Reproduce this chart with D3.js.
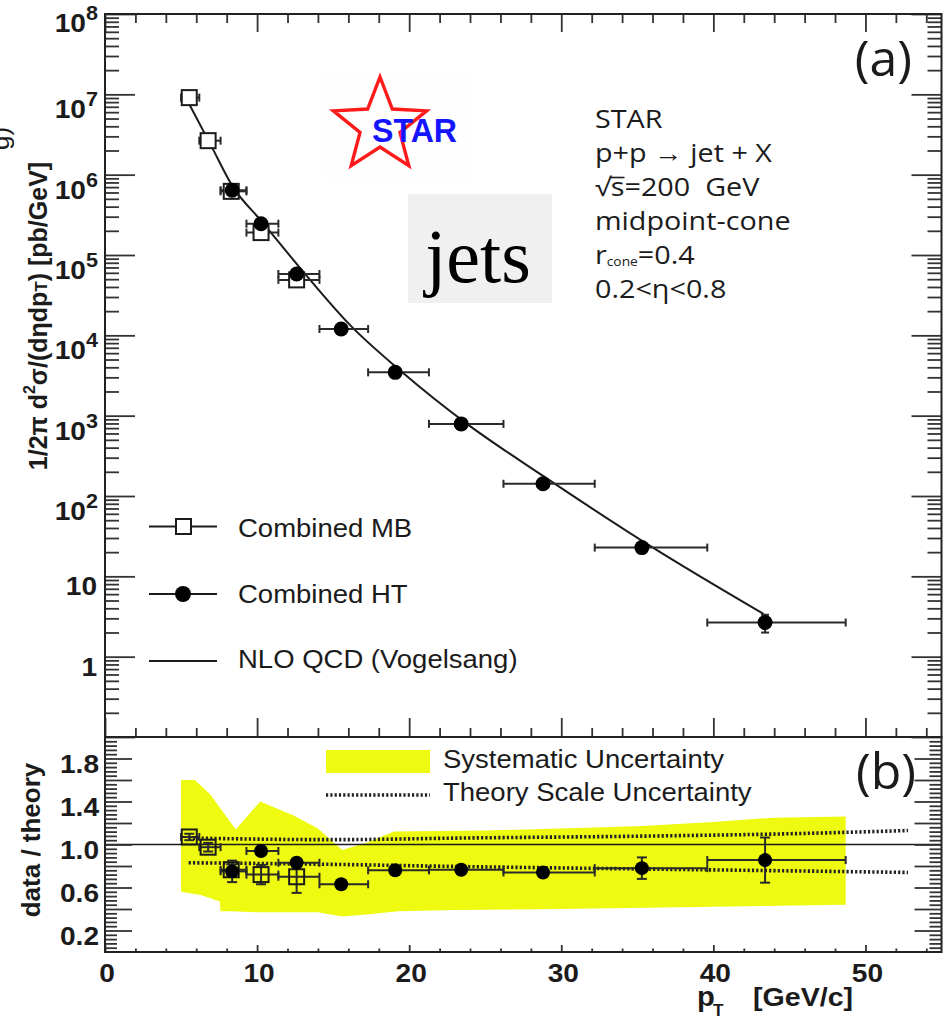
<!DOCTYPE html>
<html>
<head>
<meta charset="utf-8">
<script src="https://cdn.jsdelivr.net/npm/d3@7"></script>
<style>
  body { margin: 0; background: #fff; }
  svg { display: block; }
  text { white-space: pre; }
</style>
</head>
<body>
<script>
// ---- Combined minimum-bias (MB) sample ----
const mbPt       = [5.54, 6.78, 8.30, 10.26, 12.60];
const mbLo       = [5.0, 6.2, 7.6, 9.3, 11.4];
const mbHi       = [6.2, 7.6, 9.3, 11.4, 14.1];
const mbXsec     = [9.1e6, 2.65e6, 6.2e5, 1.9e5, 4.9e4];
const mbRatio    = [1.07, 0.975, 0.765, 0.72, 0.70];
const mbRatioErr = [0.03, 0.04, 0.05, 0.09, 0.15];

// ---- Combined high-tower (HT) sample ----
const htPt       = [8.36, 10.26, 12.60, 15.53, 19.08, 23.42, 28.80, 35.30, 43.40];
const htLo       = [7.6, 9.3, 11.4, 14.1, 17.3, 21.3, 26.2, 32.2, 39.6];
const htHi       = [9.3, 11.4, 14.1, 17.3, 21.3, 26.2, 32.2, 39.6, 48.7];
const htXsec     = [6.4e5, 2.45e5, 5.8e4, 1.2e4, 3.46e3, 7.9e2, 1.42e2, 22.8, 2.66];
const htRelErr   = [0.03, 0.03, 0.03, 0.03, 0.03, 0.04, 0.06, 0.10, 0.25];
const htRatio    = [0.75, 0.94, 0.83, 0.63, 0.76, 0.765, 0.74, 0.78, 0.855];
const htRatioErr = [0.10, 0.03, 0.03, 0.03, 0.03, 0.03, 0.04, 0.10, 0.21];

// ---- NLO QCD (Vogelsang) ----
const nloPt   = [5.5, 7.0, 8.4, 10.3, 13.0, 16.1, 19.6, 23.8, 28.8, 36.0, 43.3];
const nloXsec = [7.8e6, 2.25e6, 7.1e5, 2.63e5, 6.3e4, 1.35e4, 3.4e3, 7.9e2, 1.78e2, 22.9, 3.4];

// ---- systematic uncertainty band (ratio panel) ----
const sysUpPt = [5.0, 5.9, 6.9, 8.6, 10.2, 12.4, 14.0, 15.6, 17.3, 19.0, 25.0, 35.0, 40.0, 44.0, 48.7];
const sysUp   = [1.60, 1.60, 1.47, 1.14, 1.40, 1.27, 1.15, 0.95, 1.02, 1.12, 1.13, 1.17, 1.21, 1.25, 1.26];
const sysLoPt = [5.0, 6.3, 7.55, 7.6, 8.3, 10.0, 14.0, 15.6, 17.2, 19.3, 23.0, 30.0, 40.0, 48.7];
const sysLo   = [0.56, 0.53, 0.47, 0.38, 0.38, 0.37, 0.37, 0.33, 0.35, 0.38, 0.39, 0.40, 0.42, 0.44];

// ---- theory scale uncertainty (ratio panel) ----
const scalePt = [5.5, 15.0, 23.4, 36.5, 45.0, 52.8];
const scaleUp = [1.06, 1.045, 1.06, 1.08, 1.10, 1.13];
const scaleLo = [0.83, 0.815, 0.795, 0.77, 0.755, 0.74];

// ---- axis ticks ----
const xMajor = [0, 10, 20, 30, 40, 50];
const xMinor = d3.range(2, 55, 2).filter(v => v % 10 !== 0);
const yDecades = [0.1, 1, 10, 1e2, 1e3, 1e4, 1e5, 1e6, 1e7, 1e8];
const yLabelled = [1, 10, 1e2, 1e3, 1e4, 1e5, 1e6, 1e7, 1e8];
const rMajor = [0.2, 0.4, 0.6, 0.8, 1.0, 1.2, 1.4, 1.6, 1.8];
const rLabelled = [0.2, 0.6, 1.0, 1.4, 1.8];

const SANS = "'Liberation Sans', Arial, Helvetica, sans-serif";
const HUMAN = "'Open Sans', 'Noto Sans', sans-serif";
const SERIF = "'Liberation Serif', 'Times New Roman', serif";
const INK = "#1b1b1b";

const W = 946, H = 1021;
const xL = 105, xR = 941.5, yT = 14, yM = 737, yB = 952;

const svg = d3.select("body").append("svg").attr("width", W).attr("height", H);

const x = d3.scaleLinear().domain([0, 55]).range([xL, xR]);
const yTop = d3.scaleLog().domain([0.1, 1e8]).range([yM, yT]);
const yBot = d3.scaleLinear().domain([0, 2]).range([yB, yM]);

const yMinor = [];
yDecades.slice(0, -1).forEach(d => { for (let k = 2; k <= 9; k++) yMinor.push(k * d); });
const rMinor = d3.range(1, 50).filter(k => k % 5 !== 0).map(k => k * 0.04);

function txt(parent, px, py, s, o = {}) {
  return parent.append("text")
    .attr("transform", `translate(${px},${py}) scale(${o.sx || 1},1)`)
    .attr("text-anchor", o.anchor || "start")
    .attr("font-family", o.family || SANS)
    .attr("font-size", o.size || 25)
    .attr("font-weight", o.weight || "normal")
    .attr("fill", o.fill || INK)
    .text(s);
}

function axis(gen, tx, ty) {
  const g = svg.append("g").attr("transform", `translate(${tx},${ty})`).call(gen);
  g.select(".domain").remove();
  g.selectAll("line").attr("stroke", "#333").attr("stroke-width", 1.8);
  g.selectAll("text").remove();
  return g;
}

// ================= ratio panel content =================
const band = sysUpPt.map((p, i) => [p, sysUp[i]]).concat(
  sysLoPt.map((p, i) => [p, sysLo[i]]).reverse());
svg.append("path")
  .attr("d", d3.line().x(d => x(d[0])).y(d => yBot(d[1]))(band) + "Z")
  .attr("fill", "#eefb10");

svg.append("line")
  .attr("x1", xL).attr("x2", xR).attr("y1", yBot(1)).attr("y2", yBot(1))
  .attr("stroke", INK).attr("stroke-width", 1.6);

const dotted = d3.line().x(d => x(d[0])).y(d => yBot(d[1])).curve(d3.curveMonotoneX);
[scaleUp, scaleLo].forEach(arr => {
  svg.append("path")
    .attr("d", dotted(scalePt.map((p, i) => [p, arr[i]])))
    .attr("fill", "none").attr("stroke", "#222")
    .attr("stroke-width", 3.6).attr("stroke-dasharray", "2.2,2.1");
});

function errorBars(g, pts, lo, hi, vals, yScale, vLo, vHi, capH, capV) {
  pts.forEach((p, i) => {
    const cy = yScale(vals[i]);
    g.append("line").attr("x1", x(lo[i])).attr("x2", x(hi[i])).attr("y1", cy).attr("y2", cy);
    [lo[i], hi[i]].forEach(e => g.append("line")
      .attr("x1", x(e)).attr("x2", x(e)).attr("y1", cy - capH).attr("y2", cy + capH));
    const ya = yScale(vLo[i]), yb = yScale(vHi[i]), cx = x(p);
    g.append("line").attr("x1", cx).attr("x2", cx).attr("y1", ya).attr("y2", yb);
    [ya, yb].forEach(yy => g.append("line")
      .attr("x1", cx - capV).attr("x2", cx + capV).attr("y1", yy).attr("y2", yy));
  });
  g.attr("stroke", "#2a2a2a").attr("stroke-width", 2);
}

const rErr = svg.append("g");
errorBars(rErr, mbPt, mbLo, mbHi, mbRatio, yBot,
  mbRatio.map((v, i) => v - mbRatioErr[i]), mbRatio.map((v, i) => v + mbRatioErr[i]), 4, 5);
errorBars(rErr, htPt, htLo, htHi, htRatio, yBot,
  htRatio.map((v, i) => v - htRatioErr[i]), htRatio.map((v, i) => v + htRatioErr[i]), 4, 5);

svg.append("g").selectAll("rect").data(mbPt).join("rect")
  .attr("x", d => x(d) - 7.5).attr("y", (d, i) => yBot(mbRatio[i]) - 7.5)
  .attr("width", 15).attr("height", 15)
  .attr("fill", "none").attr("stroke", INK).attr("stroke-width", 2);
svg.append("g").selectAll("circle").data(htPt).join("circle")
  .attr("cx", d => x(d)).attr("cy", (d, i) => yBot(htRatio[i])).attr("r", 7)
  .attr("fill", "#000");

// ================= spectrum panel content =================
// STAR logo
svg.append("rect").attr("x", 325).attr("y", 73).attr("width", 148).attr("height", 109).attr("fill", "#fefefe");
const starPts = d3.range(10).map(k => {
  const a = -Math.PI / 2 + k * Math.PI / 5, r = k % 2 ? 21 : 49;
  return [380 + r * Math.cos(a), 126 + r * Math.sin(a)];
});
svg.append("path").attr("d", "M" + starPts.join("L") + "Z")
  .attr("fill", "none").attr("stroke", "#ff1a1a").attr("stroke-width", 3.4)
  .attr("stroke-linejoin", "miter");
txt(svg, 372, 141.5, "STAR", { size: 33, weight: "bold", fill: "#1414ff" })
  .attr("textLength", 85).attr("lengthAdjust", "spacingAndGlyphs");

// "jets" tag
svg.append("rect").attr("x", 408).attr("y", 194).attr("width", 144).attr("height", 109).attr("fill", "#f0f0f0");
txt(svg, 478, 281.5, "jets", { size: 76, family: SERIF, anchor: "middle", fill: "#000" });

// NLO curve
svg.append("path")
  .attr("d", d3.line().x(d => x(d[0])).y(d => yTop(d[1])).curve(d3.curveMonotoneX)(
    nloPt.map((p, i) => [p, nloXsec[i]])))
  .attr("fill", "none").attr("stroke", INK).attr("stroke-width", 2);

const sErr = svg.append("g");
errorBars(sErr, mbPt, mbLo, mbHi, mbXsec, yTop, mbXsec.map(v => v * 0.97), mbXsec.map(v => v * 1.03), 4, 4);
errorBars(sErr, htPt, htLo, htHi, htXsec, yTop,
  htXsec.map((v, i) => v * (1 - htRelErr[i])), htXsec.map((v, i) => v * (1 + htRelErr[i])), 4, 4);

svg.append("g").selectAll("rect").data(mbPt).join("rect")
  .attr("x", d => x(d) - 7.5).attr("y", (d, i) => yTop(mbXsec[i]) - 7.5)
  .attr("width", 15).attr("height", 15)
  .attr("fill", "#fff").attr("stroke", INK).attr("stroke-width", 2);
svg.append("g").selectAll("circle").data(htPt).join("circle")
  .attr("cx", d => x(d)).attr("cy", (d, i) => yTop(htXsec[i])).attr("r", 7.5)
  .attr("fill", "#000");

// legend (spectrum panel)
const leg = svg.append("g");
const legY = [526.5, 594, 661];
legY.forEach(yy => leg.append("line").attr("x1", 149).attr("x2", 217).attr("y1", yy).attr("y2", yy)
  .attr("stroke", INK).attr("stroke-width", 2));
leg.append("rect").attr("x", 176).attr("y", legY[0] - 7.5).attr("width", 15).attr("height", 15)
  .attr("fill", "#fff").attr("stroke", INK).attr("stroke-width", 2);
leg.append("circle").attr("cx", 183).attr("cy", legY[1]).attr("r", 8).attr("fill", "#000");
txt(leg, 238, 537, "Combined MB", { size: 25, sx: 1.1 });
txt(leg, 238, 603, "Combined HT", { size: 25, sx: 1.1 });
txt(leg, 238, 668, "NLO QCD (Vogelsang)", { size: 25, sx: 1.1 });

// annotation block
const ann = svg.append("g").attr("transform", "translate(595,0) scale(1.15,1)");
const annStyle = t => t.attr("font-family", HUMAN).attr("font-size", 25).attr("fill", INK);
annStyle(ann.append("text").attr("y", 128).text("STAR"));
annStyle(ann.append("text").attr("y", 162).text("p+p \u2192 jet + X"));
const sq = annStyle(ann.append("text").attr("y", 196));
sq.append("tspan").text("\u221A");
sq.append("tspan").text("s");
sq.append("tspan").text("=200  GeV");
const sNode = sq.node();
const s0 = sNode.getStartPositionOfChar(1).x, s1 = sNode.getEndPositionOfChar(1).x;
ann.append("line").attr("x1", s0 - 1).attr("x2", s1).attr("y1", 177.5).attr("y2", 177.5)
  .attr("stroke", INK).attr("stroke-width", 1.6);
annStyle(ann.append("text").attr("y", 230).text("midpoint-cone"));
const rc = annStyle(ann.append("text").attr("y", 264));
rc.append("tspan").text("r");
rc.append("tspan").attr("font-size", 12).attr("dy", 2).text("cone");
rc.append("tspan").attr("dy", -2).text("=0.4");
annStyle(ann.append("text").attr("y", 298).text("0.2<\u03B7<0.8"));

// panel tags
txt(svg, 912, 76, "(a)", { size: 50, family: HUMAN, anchor: "end" });
txt(svg, 916, 789, "(b)", { size: 50, family: HUMAN, anchor: "end" });

// legend (ratio panel)
svg.append("rect").attr("x", 326).attr("y", 750).attr("width", 104).attr("height", 23).attr("fill", "#eefb10");
svg.append("line").attr("x1", 326).attr("x2", 430).attr("y1", 795).attr("y2", 795)
  .attr("stroke", "#222").attr("stroke-width", 3.6).attr("stroke-dasharray", "2.2,2.1");
txt(svg, 443, 768, "Systematic Uncertainty", { size: 25, sx: 1.1 });
txt(svg, 443, 801, "Theory Scale Uncertainty", { size: 25, sx: 1.1 });

// ================= axes =================
// spectrum panel
axis(d3.axisLeft(yTop).tickValues(yDecades).tickSize(-30).tickFormat(""), xL, 0);
axis(d3.axisLeft(yTop).tickValues(yMinor).tickSize(-14).tickFormat(""), xL, 0);
axis(d3.axisRight(yTop).tickValues(yDecades).tickSize(-30).tickFormat(""), xR, 0);
axis(d3.axisRight(yTop).tickValues(yMinor).tickSize(-14).tickFormat(""), xR, 0);
axis(d3.axisBottom(x).tickValues(xMajor).tickSize(18).tickFormat(""), 0, yT);
axis(d3.axisBottom(x).tickValues(xMinor).tickSize(9).tickFormat(""), 0, yT);
axis(d3.axisTop(x).tickValues(xMajor).tickSize(19).tickFormat(""), 0, yM);
axis(d3.axisTop(x).tickValues(xMinor).tickSize(9).tickFormat(""), 0, yM);
// ratio panel
axis(d3.axisLeft(yBot).tickValues(rMajor).tickSize(-27).tickFormat(""), xL, 0);
axis(d3.axisLeft(yBot).tickValues(rMinor).tickSize(-12).tickFormat(""), xL, 0);
axis(d3.axisRight(yBot).tickValues(rMajor).tickSize(-27).tickFormat(""), xR, 0);
axis(d3.axisRight(yBot).tickValues(rMinor).tickSize(-12).tickFormat(""), xR, 0);
axis(d3.axisTop(x).tickValues(xMajor).tickSize(7).tickFormat(""), 0, yB);
axis(d3.axisTop(x).tickValues(xMinor).tickSize(3.5).tickFormat(""), 0, yB);

// frames
[[yT, yM], [yM, yB]].forEach(([a, b]) => svg.append("rect")
  .attr("x", xL).attr("y", a).attr("width", xR - xL).attr("height", b - a)
  .attr("fill", "none").attr("stroke", "#222").attr("stroke-width", 2));

// tick labels
const lab = { size: 26, weight: "bold", anchor: "end", sx: 1.08 };
yLabelled.forEach(v => {
  const ty = yTop(v), n = Math.round(Math.log10(v));
  if (n < 2) {
    txt(svg, 97, ty + 19, String(v), lab);
  } else {
    const t = txt(svg, 98, v === 1e8 ? ty + 18 : ty + 24, "", lab);
    t.append("tspan").text("10");
    t.append("tspan").attr("font-size", 20).attr("dy", -12).text(String(n));
  }
});
rLabelled.forEach(v => txt(svg, 99, yBot(v) + 14, v.toFixed(1), lab));
xMajor.forEach(v => txt(svg, x(v) + 2, 982, String(v), { size: 26, weight: "bold", anchor: "middle", sx: 1.08 }));

// axis titles
const yt = svg.append("text")
  .attr("transform", "translate(47,316) rotate(-90)")
  .attr("text-anchor", "middle").attr("font-family", SANS).attr("font-weight", "bold")
  .attr("font-size", 25).attr("fill", INK);
yt.append("tspan").text("1/2\u03C0 d");
yt.append("tspan").attr("font-size", 16).attr("dy", -12).text("2");
yt.append("tspan").attr("dy", 12).text("\u03C3/(d\u03B7dp");
yt.append("tspan").attr("font-size", 17).text("T");
yt.append("tspan").text(") [pb/GeV]");

svg.append("text")
  .attr("transform", "translate(9,150) rotate(-90)")
  .attr("font-family", SANS).attr("font-size", 26).attr("fill", INK).text("g)");

svg.append("text")
  .attr("transform", "translate(40,840) rotate(-90)")
  .attr("text-anchor", "middle").attr("font-family", SANS).attr("font-weight", "bold")
  .attr("font-size", 26).attr("fill", INK).text("data / theory");

txt(svg, 697, 1006, "p", { size: 27, weight: "bold", sx: 1.08 });
txt(svg, 713, 1016, "T", { size: 16, weight: "bold", sx: 1.08 });
txt(svg, 753, 1006, "[GeV/c]", { size: 26, weight: "bold", sx: 1.1 });
</script>
</body>
</html>
